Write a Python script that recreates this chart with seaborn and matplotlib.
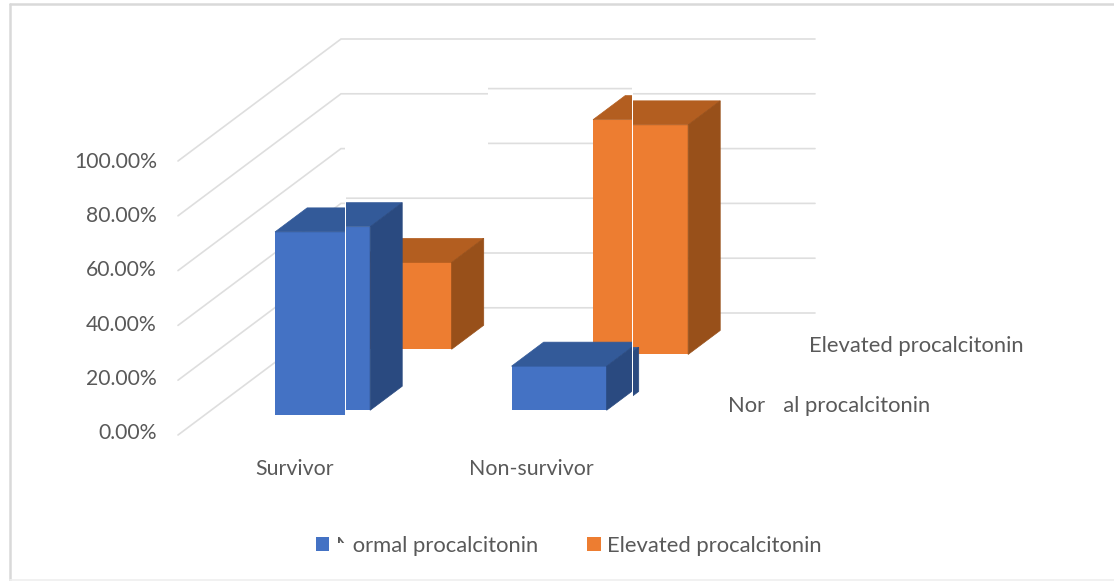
import matplotlib
matplotlib.use("Agg")
import matplotlib.pyplot as plt
from matplotlib.patches import Polygon, Rectangle
from matplotlib.lines import Line2D
import seaborn as sns

# Share of patients by outcome and procalcitonin level (percent)
categories = ["Survivor", "Non-survivor"]
series_names = ["Normal procalcitonin", "Elevated procalcitonin"]
normal_values = [67.0, 16.1]
elevated_values = [31.7, 83.8]
y_ticks = [0, 20, 40, 60, 80, 100]

W, H = 1114, 581
TEXT = "#595959"
GRID = "#dedede"
LABEL_SIZE = 15.8
TICK_SIZE = 15.2

# Oblique projection of the chart box, in figure pixels
FLOOR_X, FLOOR_Y = 178.0, 435.0     # front-left floor corner
WALL_DX, WALL_DY = 163.0, 122.0     # offset to the back wall for full depth
WALL_RIGHT = 815.0
PX_PER_PCT = 2.74
CAT_ORIGIN, CAT_STEP = 296.5, 236.5
BAR_WIDTH = 0.402
BAR_DEPTH = 0.197

# Face colours and depth of each bar row along the floor
styles = {
    "Normal": dict(front="#4472C4", top="#335A99", side="#2A4A80", depth=0.16, z=3),
    "Elevated": dict(front="#ED7D31", top="#B35E20", side="#98501A", depth=0.66, z=2),
}

# Panels of the plate: x0, x1, y0, y1 and vertical slip of the content
panels = [
    (0, 345, 0, 581, 0),
    (345, 488, 0, 140, 0),
    (346, 488, 150, 581, -5.2),
    (488, 633, 0, 70, 0),
    (488, 632, 70, 581, -5.2),
    (633, 1114, 0, 70, 0),
    (633, 1114, 70, 581, 0),
]

sns.set_theme(style="white")
plt.rcParams["font.family"] = ["Lato", "DejaVu Sans"]

fig = plt.figure(figsize=(W / 100, H / 100), dpi=100, facecolor="white")


def px_axes(x0, x1, y0, y1):
    ax = fig.add_axes([x0 / W, 1 - y1 / H, (x1 - x0) / W, (y1 - y0) / H])
    ax.patch.set_alpha(0)
    return ax


def to_x(px):
    return (px - CAT_ORIGIN) / CAT_STEP


def to_pct(py):
    return (FLOOR_Y - py) / PX_PER_PCT


def draw_walls(ax):
    run = WALL_DX / CAT_STEP
    rise = WALL_DY / PX_PER_PCT
    left = to_x(FLOOR_X)
    right = to_x(WALL_RIGHT)
    for tick in y_ticks:
        ax.plot([left, left + run, right], [tick, tick + rise, tick + rise],
                color=GRID, lw=1.2, zorder=0.5, solid_joinstyle="miter")


def draw_row(ax, values, style):
    depth = style["depth"]
    dx = depth * WALL_DX / CAT_STEP
    base = depth * WALL_DY / PX_PER_PCT
    positions = [i + dx for i in range(len(categories))]
    sns.barplot(x=positions, y=values, native_scale=True, width=BAR_WIDTH,
                color=style["front"], saturation=1, bottom=base, ax=ax,
                errorbar=None, zorder=style["z"], linewidth=0)
    bar_dx = BAR_DEPTH * WALL_DX / CAT_STEP
    bar_dy = BAR_DEPTH * WALL_DY / PX_PER_PCT
    container = ax.containers[-1]
    for rect in container:
        x0, x1 = rect.get_x(), rect.get_x() + rect.get_width()
        y0, y1 = rect.get_y(), rect.get_y() + rect.get_height()
        ax.add_patch(Polygon([(x0, y1), (x1, y1), (x1 + bar_dx, y1 + bar_dy), (x0 + bar_dx, y1 + bar_dy)],
                             closed=True, fc=style["top"], ec=style["top"], lw=0.5, zorder=style["z"]))
        ax.add_patch(Polygon([(x1, y0), (x1 + bar_dx, y0 + bar_dy), (x1 + bar_dx, y1 + bar_dy), (x1, y1)],
                             closed=True, fc=style["side"], ec=style["side"], lw=0.5, zorder=style["z"]))
    return container


handles = {}
for x0, x1, y0, y1, slip in panels:
    ax = px_axes(x0, x1, y0, y1)
    draw_walls(ax)
    handles["Elevated"] = draw_row(ax, elevated_values, styles["Elevated"])
    handles["Normal"] = draw_row(ax, normal_values, styles["Normal"])
    ax.set_xlim(to_x(x0), to_x(x1))
    ax.set_ylim(to_pct(y1 - slip), to_pct(y0 - slip))
    ax.set_axis_off()

# Value and category labels on their own axes
base_left, base_right, base_top, base_bottom = 159, 815, 100, 455
base = px_axes(base_left, base_right, base_top, base_bottom)
base.set_xlim((base_left - 295) / 236, (base_right - 295) / 236)
base.set_ylim((431 - base_bottom) / 2.71, (431 - base_top) / 2.71)
base.set_yticks(y_ticks, [f"{t:.2f}%" for t in y_ticks])
base.set_xticks(range(len(categories)), categories)
base.tick_params(length=0, pad=1.5, labelsize=TICK_SIZE, labelcolor=TEXT)
base.tick_params(axis="x", pad=3, labelsize=LABEL_SIZE - 0.4)
sns.despine(ax=base, left=True, bottom=True)

# Labels along the depth axis
fig.text(809 / W, 1 - 346.5 / H, series_names[1], color=TEXT, fontsize=LABEL_SIZE, va="center", ha="left")
fig.text(728 / W, 1 - 406.5 / H, series_names[0], color=TEXT, fontsize=LABEL_SIZE, va="center", ha="left")

legend = fig.legend([handles["Normal"], handles["Elevated"]], series_names,
                    loc="center left", bbox_to_anchor=(316 / W, 1 - 545.5 / H), ncol=2, frameon=False,
                    fontsize=LABEL_SIZE, labelcolor=TEXT, handlelength=0.6, handleheight=0.6,
                    handletextpad=0.3, columnspacing=2.25, borderpad=0, borderaxespad=0)

# Plate border
fig.add_artist(Line2D([9.5 / W, 9.5 / W], [0, 1 - 4 / H], color="#d9d9d9", lw=1.8))
fig.add_artist(Line2D([9.5 / W, 1], [1 - 4 / H, 1 - 4 / H], color="#d9d9d9", lw=1.8))
fig.add_artist(Line2D([9.5 / W, 1], [1 - 580 / H, 1 - 580 / H], color="#efefef", lw=1.2))

# White scratches across the printed plate, over the axis and legend labels
for x0, x1, y0, y1 in [(765, 783, 392, 420), (347, 353, 528, 558), (333, 347, 543, 558)]:
    fig.add_artist(Rectangle((x0 / W, 1 - y1 / H), (x1 - x0) / W, (y1 - y0) / H,
                             transform=fig.transFigure, fc="white", ec="none", zorder=20))

fig.savefig("out.png", dpi=100)
